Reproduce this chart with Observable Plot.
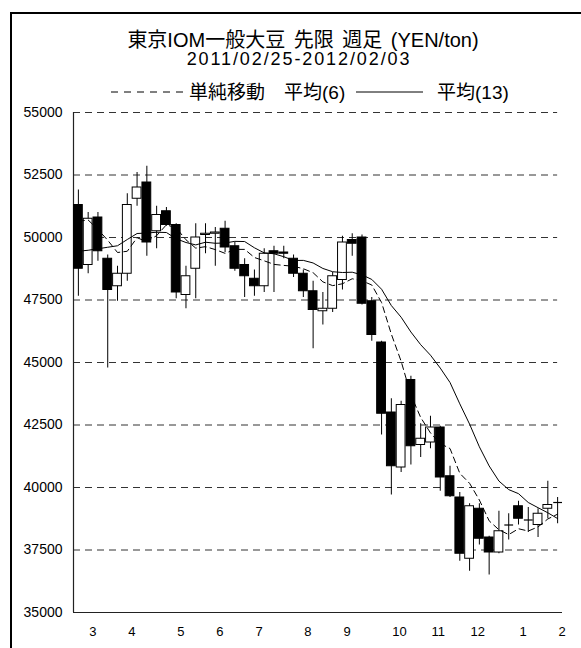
<!DOCTYPE html>
<html><head><meta charset="utf-8">
<script src="https://cdn.jsdelivr.net/npm/d3@7"></script>
<script src="https://cdn.jsdelivr.net/npm/@observablehq/plot@0.6"></script>
<style>
body{margin:0;background:#fff;font-family:"Liberation Sans",Arial,"Noto Sans CJK JP",sans-serif;color:#000;}
#wrap{position:relative;width:581px;height:648px;overflow:hidden;}
#frame{position:absolute;left:10px;top:12px;width:700px;height:800px;border-left:2px solid #000;border-top:2px solid #000;}
.t{position:absolute;left:0;width:606px;text-align:center;white-space:nowrap;}
#t1{top:24px;font-size:20px;word-spacing:3px;}
#t2{top:49px;font-size:18px;letter-spacing:1.9px;left:-4px;}
.lg{position:absolute;top:77px;font-size:19px;white-space:nowrap;}
#chart{position:absolute;left:0;top:100px;}
</style></head>
<body><div id="wrap">
<div id="frame"></div>
<div class="t" id="t1">東京IOM一般大豆 先限 週足 (YEN/ton)</div>
<div class="t" id="t2">2011/02/25-2012/02/03</div>
<svg class="lg" style="left:111px;top:83px" width="72" height="16"><line x1="0" x2="72" y1="9" y2="9" stroke="#000" stroke-dasharray="7,6"/></svg>
<div class="lg" style="left:189px">単純移動　平均(6)</div>
<svg class="lg" style="left:356px;top:83px" width="67" height="16"><line x1="0" x2="67" y1="9" y2="9" stroke="#000"/></svg>
<div class="lg" style="left:437px">平均(13)</div>
<div id="chart"></div>
</div>
<script>
const weekStart = "2011-02-25";
const openP  = [51300,48900,50800,49150,48050,48550,51550,52200,50250,51050,50500,47700,48750,50100,50150,50350,49650,48900,48350,48050,49450,49400,49150,48550,47850,47050,47150,48300,49900,50000,47450,45800,43000,40800,44300,41700,41800,42400,40450,39600,37150,39150,38000,37400,38500,39250,38700,38500,39150,39400];
const highP  = [51900,51000,51000,49300,48850,51750,52600,52850,51250,51200,50550,48850,50550,50550,50400,50650,49800,49150,48700,49550,49650,49650,49300,48700,48250,47800,48600,50050,50150,50100,47600,45850,43550,43450,44450,42550,42850,42450,40850,39800,39350,39350,38050,39050,38950,39450,39200,39150,40250,39600];
const lowP   = [47650,48550,49050,44780,47450,48250,51250,49250,49550,50450,47550,47150,47550,49350,48850,49400,48650,47600,47650,47800,47800,49150,48400,47600,45550,46500,47000,47900,49250,47300,45850,42100,39700,40600,40900,41200,41550,39850,39600,37050,36650,37700,36500,37350,37900,38500,38200,38000,38750,38550];
const closeP = [48750,50750,49450,47900,48550,51300,52000,49800,50900,50500,47800,48450,50000,50150,50200,49600,48750,48450,48050,49350,49350,49350,48550,47850,47100,47150,48450,49800,49750,47350,46100,42950,40850,43300,41650,41950,42400,40400,39650,37350,39250,37950,37400,38250,38500,38750,38700,38950,39300,39400];
// moving-average values for weeks whose window reaches before the first candle
const ma6Early  = [50650,50700,50320,49890,49400];
const ma13Early = [49450,49490,49550,49610,49670,49920,50160,50180,50210,50200,49950,49800];
const yTicks = [35000,37500,40000,42500,45000,47500,50000,52500,55000];
const monthLabels = ["3","4","5","6","7","8","9","10","11","12","1","2"];
const monthWeek = [1,5,10,14,18,23,27,32,36,40,45,49];

const data = openP.map((o,i)=>{
  const ma6 = i>=5 ? d3.mean(closeP.slice(i-5,i+1)) : ma6Early[i];
  const ma13 = i>=12 ? d3.mean(closeP.slice(i-12,i+1)) : ma13Early[i];
  return {i, open:o, high:highP[i], low:lowP[i], close:closeP[i], ma6, ma13};
});
const bodies = data.filter(d=>Math.abs(d.close-d.open)>=1);
const dojis = data.filter(d=>Math.abs(d.close-d.open)<1);
const labels = monthWeek.map((w,k)=>({w, label:monthLabels[k]}));
const hw = 0.45;

const chart = Plot.plot({
  width:581, height:548,
  marginLeft:73, marginRight:19, marginTop:12, marginBottom:36,
  x:{domain:[-0.5,49.5], axis:null},
  y:{domain:[35000,55000], axis:null},
  style:{fontFamily:'"Liberation Sans",Arial,sans-serif', background:"transparent"},
  marks:[
    Plot.ruleY(yTicks.filter(v=>v>35000), {x1:-0.5, x2:49, stroke:"#333", strokeWidth:1, strokeDasharray:"7,5"}),
    Plot.ruleY([35000], {x1:-0.5, x2:49.5, stroke:"#222", strokeWidth:1.2}),
    Plot.ruleX([-0.5], {y1:35000, y2:55000, stroke:"#222", strokeWidth:1.2}),
    Plot.ruleX(data, {x:"i", y1:"low", y2:"high", stroke:"#000", strokeWidth:1}),
    Plot.rect(bodies, {x1:d=>d.i-hw, x2:d=>d.i+hw, y1:"open", y2:"close",
      fill:d=>d.close>d.open?"#fff":"#000", stroke:"#000", strokeWidth:1}),
    Plot.link(dojis, {x1:d=>d.i-hw, x2:d=>d.i+hw, y1:"open", y2:"close", stroke:"#000", strokeWidth:1.2}),
    Plot.line(data, {x:"i", y:"ma6", stroke:"#000", strokeWidth:1, strokeDasharray:"6,4"}),
    Plot.line(data, {x:"i", y:"ma13", stroke:"#000", strokeWidth:1}),
    Plot.text(yTicks, {x:-0.5, y:d=>d, text:d=>String(d), textAnchor:"end", dx:-11, fontSize:14, fill:"#000"}),
    Plot.text(labels, {x:"w", frameAnchor:"bottom", text:"label", textAnchor:"start", dx:1, dy:23, fontSize:13, fill:"#000"})
  ]
});
document.getElementById("chart").appendChild(chart);
</script>
</body></html>
